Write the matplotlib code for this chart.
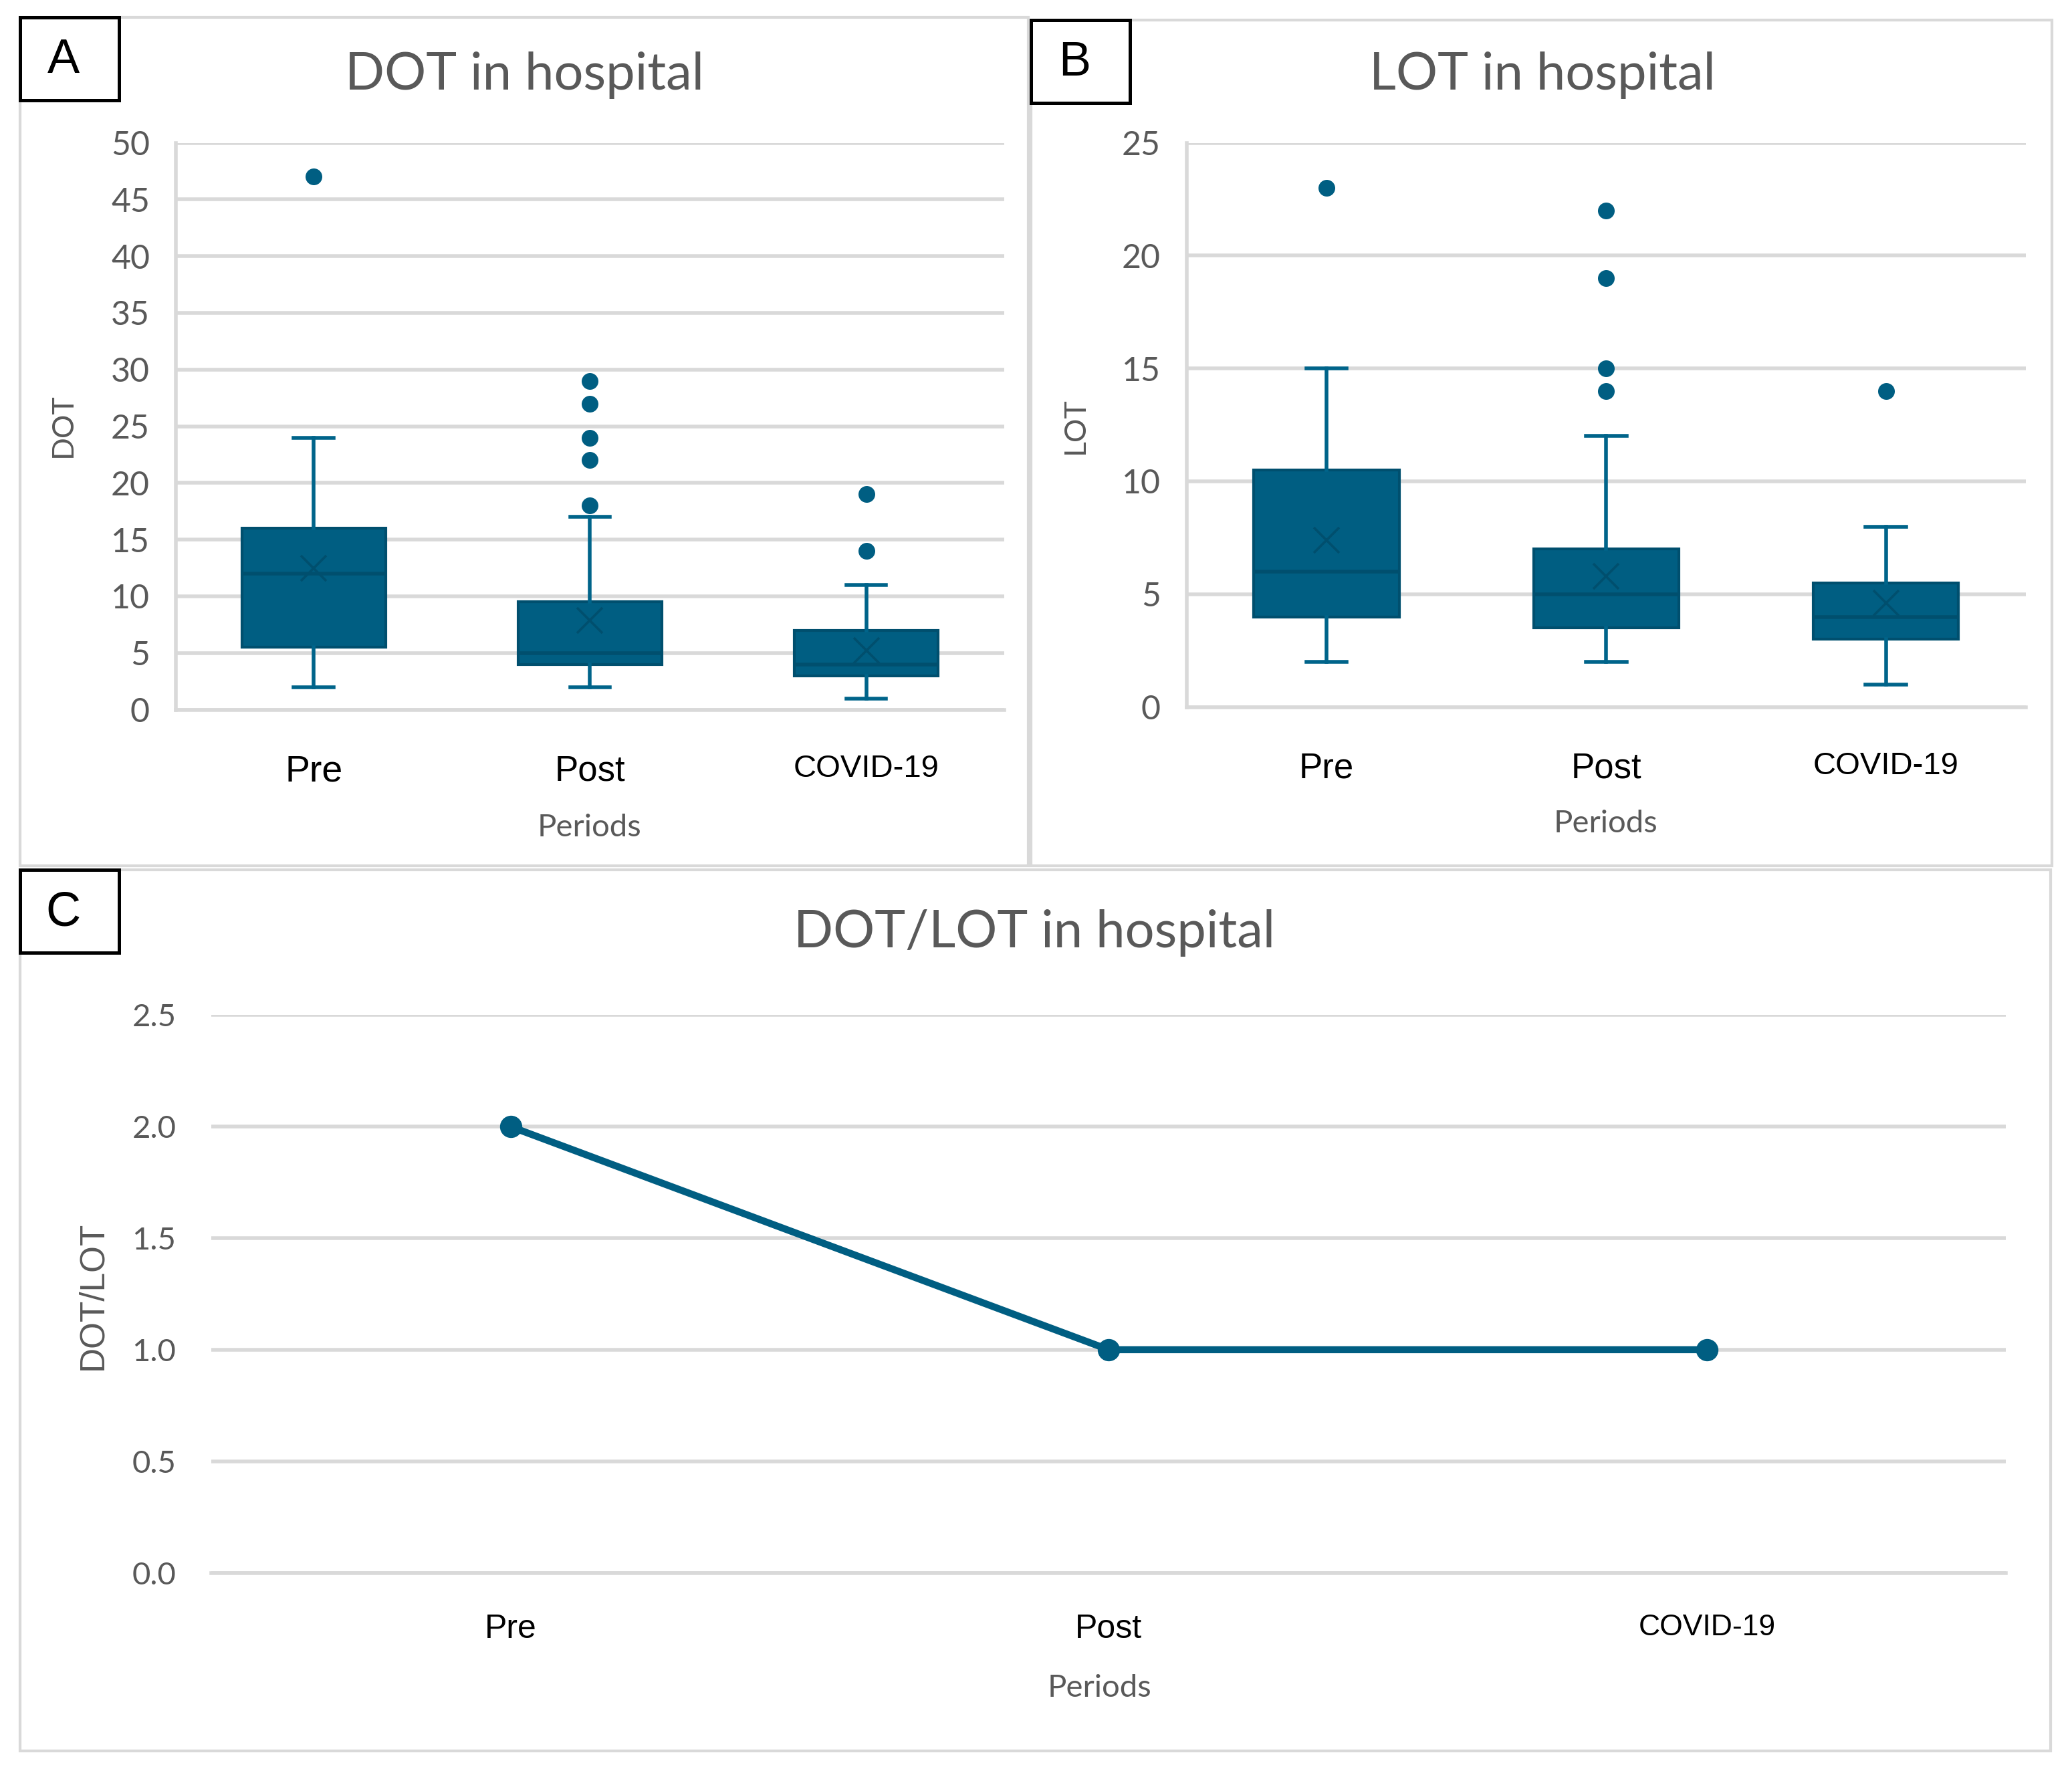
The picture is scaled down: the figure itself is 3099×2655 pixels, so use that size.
import matplotlib.pyplot as plt
from matplotlib.patches import Rectangle

periods = ["Pre", "Post", "COVID-19"]

# DOT box stats
dot_low = [2, 2, 1]
dot_q1 = [5.5, 4, 3]
dot_med = [12, 5, 4]
dot_q3 = [16, 9.5, 7]
dot_high = [24, 17, 11]
dot_mean = [12.5, 7.9, 5.2]
dot_out = [[47], [18, 22, 24, 27, 29], [14, 19]]

# LOT box stats
lot_low = [2, 2, 1]
lot_q1 = [4, 3.5, 3]
lot_med = [6, 5, 4]
lot_q3 = [10.5, 7, 5.5]
lot_high = [15, 12, 8]
lot_mean = [7.4, 5.8, 4.6]
lot_out = [[23], [14, 15, 19, 22], [14]]

ratio = [2.0, 1.0, 1.0]

fill = "#005E82"
dark = "#004F6E"
grid = "#D9D9D9"
gray = "#595959"
tfont = "Lato"
xfont = "Liberation Sans"

W, H = 1568.0, 1343.0


def fx(x):
    return x / W


def fy(y):
    return 1 - y / H


def stats(low, q1, med, q3, high, mean, out):
    res = []
    for i in range(len(low)):
        res.append({"whislo": low[i], "q1": q1[i], "med": med[i], "q3": q3[i],
                    "whishi": high[i], "mean": mean[i], "fliers": out[i]})
    return res


fig = plt.figure(figsize=(15.495, 13.275), dpi=200)

# panel frames and letter boxes
for (x0, y0, x1, y1) in [(15, 13, 778, 655), (780, 15, 1553, 655), (15, 658, 1552, 1325)]:
    fig.patches.append(Rectangle((fx(x0), fy(y1)), fx(x1 - x0), (y1 - y0) / H,
                                 transform=fig.transFigure, fill=False, ec=grid, lw=1.5))
for (x0, y0, let) in [(15, 13, "A"), (780, 15, "B"), (15, 658, "C")]:
    fig.patches.append(Rectangle((fx(x0), fy(y0 + 63)), fx(75), 63 / H,
                                 transform=fig.transFigure, fill=False, ec="black", lw=1.8, zorder=5))
    fig.text(fx(x0 + 33), fy(y0 + 33), let, fontsize=26, family=xfont, ha="center", va="center")


def box_panel(rect, data, ymax, step, title, tx, ylab, ylx, periods_xy, sizes):
    ax = fig.add_axes(rect)
    ax.bxp(data, positions=[0, 1, 2], widths=0.52, showmeans=True, patch_artist=True,
           capwidths=0.145,
           boxprops=dict(facecolor=fill, edgecolor=dark, lw=1.5),
           medianprops=dict(color=dark, lw=2),
           whiskerprops=dict(color="#00648A", lw=2),
           capprops=dict(color="#00648A", lw=2),
           meanprops=dict(marker="x", markeredgecolor=dark, markersize=14, markeredgewidth=1.3),
           flierprops=dict(marker="o", markerfacecolor=fill, markeredgecolor=fill, markersize=8))
    ax.set_xlim(-0.5, 2.5)
    ax.set_ylim(0, ymax)
    ax.set_yticks(range(0, ymax + 1, step))
    ax.yaxis.grid(True, color=grid, lw=2)
    ax.set_axisbelow(True)
    for s in ["top", "right"]:
        ax.spines[s].set_visible(False)
    ax.spines["left"].set_color(grid)
    ax.spines["bottom"].set_color(grid)
    ax.spines["left"].set_linewidth(2)
    ax.spines["bottom"].set_linewidth(2)
    ax.tick_params(length=0)
    ax.tick_params(axis="y", labelsize=18, labelcolor=gray, pad=14)
    ax.set_xticks([0, 1, 2])
    ax.set_xticklabels(periods, family=xfont)
    ax.tick_params(axis="x", pad=24)
    for t, s in zip(ax.get_xticklabels(), sizes):
        t.set_fontsize(s)
    for t in ax.get_yticklabels():
        t.set_family(tfont)
    fig.text(fx(tx), fy(57), title, fontsize=28, color=gray, family=tfont, ha="center", va="center")
    fig.text(fx(ylx), fy(322), ylab, fontsize=16, color=gray, family=tfont, rotation=90,
             ha="center", va="center")
    fig.text(fx(periods_xy[0]), fy(periods_xy[1]), "Periods", fontsize=17, color=gray,
             family=tfont, ha="center", va="center")
    return ax


box_panel([fx(133), fy(537), fx(760 - 133), (537 - 108) / H],
          stats(dot_low, dot_q1, dot_med, dot_q3, dot_high, dot_mean, dot_out),
          50, 5, "DOT in hospital", 397, "DOT", 48, (446, 626), [20, 19, 17])
box_panel([fx(898), fy(535), fx(1533 - 898), (535 - 108) / H],
          stats(lot_low, lot_q1, lot_med, lot_q3, lot_high, lot_mean, lot_out),
          25, 5, "LOT in hospital", 1167, "LOT", 814, (1215, 623), [19, 19, 17])

# panel C
axc = fig.add_axes([fx(160), fy(1190), fx(1518 - 160), (1190 - 768) / H])
axc.plot([0, 1, 2], ratio, "-o", color=fill, lw=3.8, markersize=11)
axc.set_xlim(-0.5, 2.5)
axc.set_ylim(0, 2.5)
axc.set_yticks([0, 0.5, 1.0, 1.5, 2.0, 2.5])
axc.set_yticklabels(["0.0", "0.5", "1.0", "1.5", "2.0", "2.5"], family=tfont)
axc.yaxis.grid(True, color=grid, lw=2)
axc.set_axisbelow(True)
for s in ["top", "right", "left"]:
    axc.spines[s].set_visible(False)
axc.spines["bottom"].set_color(grid)
axc.spines["bottom"].set_linewidth(2)
axc.tick_params(length=0)
axc.tick_params(axis="y", labelsize=17, labelcolor=gray, pad=19)
axc.set_xticks([0, 1, 2])
axc.set_xticklabels(periods, family=xfont)
axc.tick_params(axis="x", pad=22)
for t, s in zip(axc.get_xticklabels(), [18, 18, 16]):
    t.set_fontsize(s)
fig.text(fx(783), fy(706), "DOT/LOT in hospital", fontsize=28, color=gray, family=tfont,
         ha="center", va="center")
fig.text(fx(70), fy(980), "DOT/LOT", fontsize=18.5, color=gray, family=xfont, rotation=90,
         ha="center", va="center")
fig.text(fx(832), fy(1277), "Periods", fontsize=17, color=gray, family=tfont,
         ha="center", va="center")

fig.savefig("out.png", dpi=200)
